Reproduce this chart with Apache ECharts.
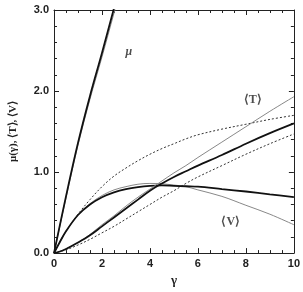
<!DOCTYPE html>
<html>
<head>
<meta charset="utf-8">
<script src="https://cdn.jsdelivr.net/npm/echarts@6/dist/echarts.min.js"></script>
<style>
  html, body { margin: 0; padding: 0; background: #fff; }
  #chart { width: 303px; height: 292px; }
</style>
</head>
<body>
<div id="chart"></div>
<script>
// mu curves (steep, leave the frame at 3.0)
var gammaMu = [0, 0.5, 1.0, 1.5, 2.0, 2.5, 2.7];
var muThick = [0, 0.70, 1.36, 1.94, 2.47, 3.02, 3.22];
var muThin  = [0, 0.68, 1.33, 1.90, 2.42, 2.96, 3.17];

// <V>, <T> and the two dotted curves
var gamma     = [0, 0.25, 0.5, 1, 1.5, 2, 2.5, 3, 3.5, 4, 4.5, 5, 5.5, 6, 7, 8, 9, 10];
var vThick    = [0, 0.14, 0.27, 0.47, 0.60, 0.69, 0.75, 0.79, 0.815, 0.83, 0.835, 0.83, 0.825, 0.82, 0.79, 0.76, 0.725, 0.69];
var vThin     = [0, 0.14, 0.27, 0.47, 0.61, 0.71, 0.78, 0.82, 0.85, 0.86, 0.855, 0.84, 0.82, 0.78, 0.70, 0.59, 0.48, 0.35];
var tThick    = [0, 0.02, 0.05, 0.13, 0.22, 0.33, 0.44, 0.55, 0.66, 0.77, 0.86, 0.94, 1.01, 1.08, 1.21, 1.35, 1.48, 1.60];
var tThin     = [0, 0.02, 0.05, 0.13, 0.23, 0.35, 0.46, 0.58, 0.69, 0.79, 0.89, 0.99, 1.08, 1.18, 1.37, 1.56, 1.75, 1.93];
var dotUpper  = [0, 0.14, 0.27, 0.48, 0.66, 0.82, 0.95, 1.05, 1.14, 1.22, 1.29, 1.35, 1.41, 1.46, 1.53, 1.59, 1.65, 1.70];
var dotLower  = [0, 0.02, 0.04, 0.10, 0.17, 0.25, 0.33, 0.42, 0.51, 0.60, 0.69, 0.77, 0.86, 0.94, 1.08, 1.22, 1.35, 1.47];

var yTicks = ['0.0', '1.0', '2.0', '3.0'];

var curveLabels = [
  { name: 'μ', value: [3.12, 2.48], italic: true },
  { name: '⟨T⟩', value: [8.29, 1.89] },
  { name: '⟨V⟩', value: [7.37, 0.39] }
];

function pairs(xs, ys) {
  return xs.map(function (x, i) { return [x, ys[i]]; });
}

function curve(xs, ys, color, width, type) {
  return {
    type: 'line',
    data: pairs(xs, ys),
    smooth: 0.35,
    showSymbol: false,
    clip: true,
    silent: true,
    lineStyle: { color: color, width: width, type: type || 'solid' }
  };
}

// frame side with inner ticks
function frame(extra, minorSplit) {
  return Object.assign({
    type: 'value',
    axisLine: { show: true, onZero: false, lineStyle: { color: '#222', width: 1 } },
    axisTick: { show: true, inside: true, length: 5, lineStyle: { color: '#222', width: 1 } },
    minorTick: { show: true, splitNumber: minorSplit, length: 3, lineStyle: { color: '#222' } },
    splitLine: { show: false }
  }, extra);
}

var myChart = echarts.init(document.getElementById('chart'));

// single-word family names only
var labelFont = { fontFamily: 'Arial', fontWeight: 'bold', fontSize: 11, color: '#222' };
var nameFont = { fontFamily: 'serif', fontWeight: 'bold', fontSize: 11, color: '#222' };

var option = {
  animation: false,
  grid: { left: 52, right: 1, top: 10, bottom: 33 },
  xAxis: [
    frame({ min: 0, max: 10, interval: 2, position: 'bottom',
      axisLabel: Object.assign({ margin: 5 }, labelFont),
      name: 'γ', nameLocation: 'middle', nameGap: 20,
      nameTextStyle: Object.assign({}, nameFont, { fontSize: 13 }) }, 4),
    frame({ min: 0, max: 10, interval: 2, position: 'top', axisLabel: { show: false } }, 4)
  ],
  yAxis: [
    frame({ min: 0, max: 3, interval: 1, position: 'left',
      axisLabel: Object.assign({ margin: 5, formatter: function (v) { return yTicks[Math.round(v)]; } }, labelFont),
      name: 'μ(γ), ⟨T⟩, ⟨V⟩', nameLocation: 'middle', nameGap: 35, nameRotate: 90,
      nameTextStyle: nameFont }, 5),
    frame({ min: 0, max: 3, interval: 1, position: 'right', axisLabel: { show: false } }, 5)
  ],
  series: [
    curve(gammaMu, muThin, '#888', 1),
    curve(gammaMu, muThick, '#111', 1.8),
    curve(gamma, dotUpper, '#333', 1, [2, 2]),
    curve(gamma, dotLower, '#333', 1, [2, 2]),
    curve(gamma, vThin, '#888', 1),
    curve(gamma, vThick, '#111', 1.8),
    curve(gamma, tThin, '#888', 1),
    curve(gamma, tThick, '#111', 1.8),
    {
      type: 'scatter',
      silent: true,
      symbolSize: 0,
      data: curveLabels.map(function (d) {
        return {
          value: d.value,
          label: {
            show: true, position: 'inside', formatter: d.name,
            fontFamily: 'serif', fontWeight: 'bold', fontSize: 12,
            fontStyle: d.italic ? 'italic' : 'normal', color: '#222'
          }
        };
      })
    }
  ]
};

myChart.setOption(option);
</script>
</body>
</html>
